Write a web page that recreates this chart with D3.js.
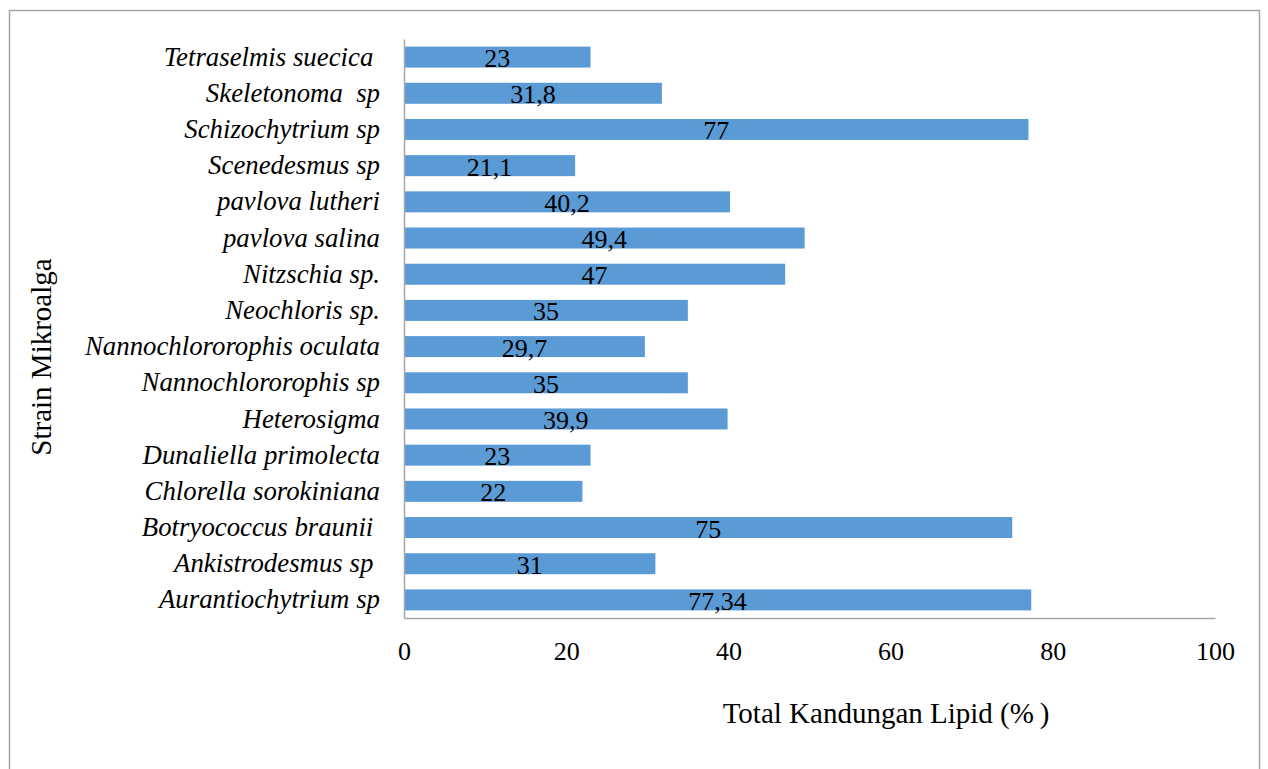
<!DOCTYPE html>
<html>
<head>
<meta charset="utf-8">
<script src="https://cdn.jsdelivr.net/npm/d3@7"></script>
<style>
  body { margin: 0; background: #fff; }
  svg text { font-family: "Liberation Serif", "Times New Roman", serif; white-space: pre; }
</style>
</head>
<body>
<div id="chart"></div>
<script>
// strain names, top to bottom (trailing spaces as in the source)
const strains = [
    "Tetraselmis suecica ", "Skeletonoma  sp", "Schizochytrium sp", "Scenedesmus sp",
    "pavlova lutheri", "pavlova salina", "Nitzschia sp.", "Neochloris sp.",
    "Nannochlororophis oculata", "Nannochlororophis sp", "Heterosigma",
    "Dunaliella primolecta", "Chlorella sorokiniana", "Botryococcus braunii ",
    "Ankistrodesmus sp ", "Aurantiochytrium sp"
];
const lipid = [23, 31.8, 77, 21.1, 40.2, 49.4, 47, 35, 29.7, 35, 39.9, 23, 22, 75, 31, 77.34];
const xTicks = [0, 20, 40, 60, 80, 100];

const width = 1268, height = 769;
const margin = {top: 39, right: 53, bottom: 151, left: 404};

const data = strains.map((s, i) => ({name: s, value: lipid[i]}));

const svg = d3.select("#chart").append("svg")
    .attr("width", width)
    .attr("height", height);

// outer frame
svg.append("rect")
    .attr("x", 9.5).attr("y", 10.5)
    .attr("width", 1250).attr("height", 780)
    .attr("fill", "none")
    .attr("stroke", "#a6a6a6")
    .attr("stroke-width", 1.5);

const x = d3.scaleLinear()
    .domain([0, 100])
    .range([margin.left, width - margin.right]);

const y = d3.scaleBand()
    .domain(strains)
    .range([margin.top, height - margin.bottom])
    .paddingInner(0.42)
    .paddingOuter(0.21);

// bars
svg.append("g")
    .selectAll("rect")
    .data(data)
    .join("rect")
    .attr("x", x(0))
    .attr("y", d => y(d.name))
    .attr("width", d => x(d.value) - x(0))
    .attr("height", y.bandwidth())
    .attr("fill", "#5b9bd5");

// value labels (comma decimals)
svg.append("g")
    .selectAll("text")
    .data(data)
    .join("text")
    .attr("x", d => x(d.value / 2))
    .attr("y", d => y(d.name) + y.bandwidth() - 0.5)
    .attr("text-anchor", "middle")
    .attr("font-size", 26)
    .attr("fill", "#000")
    .text(d => String(d.value).replace(".", ","));

// axes
const xAxis = d3.axisBottom(x).tickValues(xTicks).tickSize(0).tickPadding(24);
const gx = svg.append("g")
    .attr("transform", `translate(0,${height - margin.bottom})`)
    .call(xAxis);
gx.select(".domain").attr("stroke", "#a6a6a6").attr("stroke-width", 1.5);
gx.selectAll("text").attr("font-size", 26).attr("fill", "#000")
    .attr("font-family", "Liberation Serif, Times New Roman, serif");

const yAxis = d3.axisLeft(y).tickSize(0).tickPadding(24);
const gy = svg.append("g")
    .attr("transform", `translate(${margin.left},0)`)
    .call(yAxis);
gy.select(".domain").attr("stroke", "#a6a6a6").attr("stroke-width", 1.5);
gy.selectAll("text").attr("font-size", 26.8).attr("font-style", "italic").attr("fill", "#000")
    .attr("font-family", "Liberation Serif, Times New Roman, serif")
    .attr("dy", "0.32em");

// axis titles
svg.append("text")
    .attr("x", 886)
    .attr("y", 723)
    .attr("text-anchor", "middle")
    .attr("font-size", 29)
    .text("Total Kandungan Lipid (%\u2009)");

svg.append("text")
    .attr("transform", "translate(51,357) rotate(-90)")
    .attr("text-anchor", "middle")
    .attr("font-size", 29)
    .text("Strain Mikroalga");
</script>
</body>
</html>
